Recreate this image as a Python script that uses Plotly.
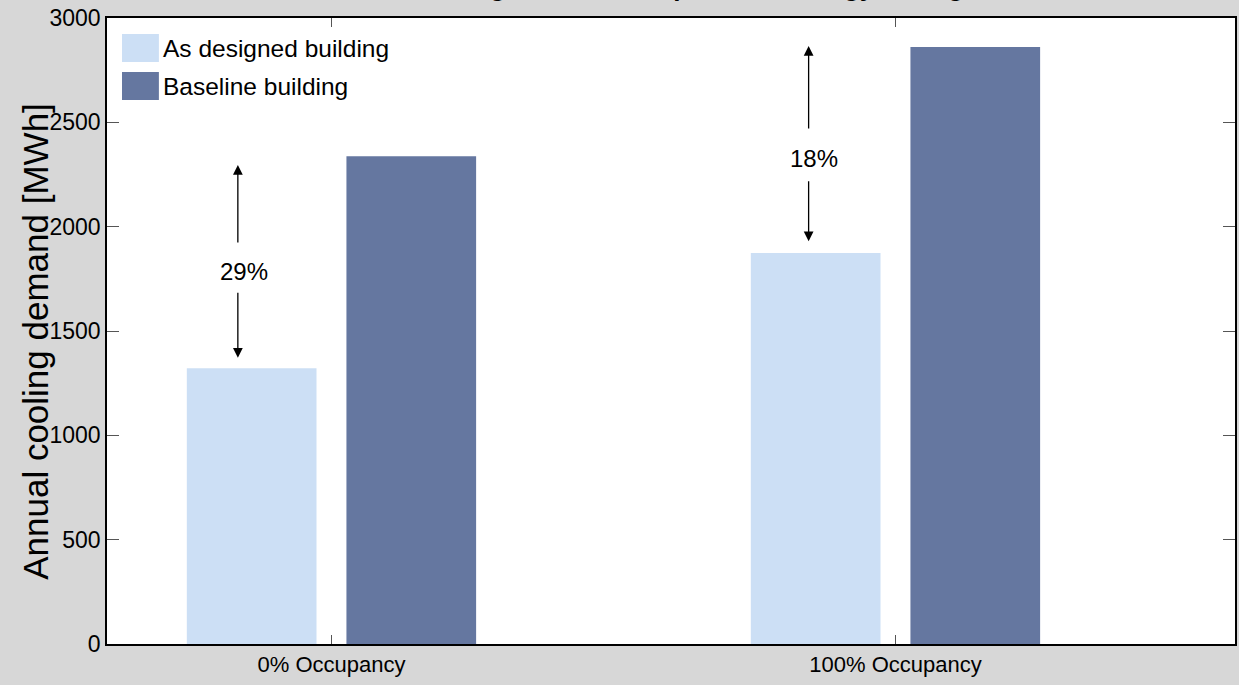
import plotly.graph_objects as go

categories = ["0% Occupancy", "100% Occupancy"]
as_designed = [1322, 1874]
baseline = [2338, 2861]
series_names = ["As designed building", "Baseline building"]
savings_labels = ["29%", "18%"]
y_ticks = [0, 500, 1000, 1500, 2000, 2500, 3000]
y_title = "Annual cooling demand [MWh]"

# annotation geometry (data coords)
arrow_x = [-0.166, 0.846]
label_x = [-0.155, 0.855]
label_y = [1785, 2325]
up_tail = [1917, 2463]
up_head = [2295, 2866]
down_tail = [1690, 2225]
down_head = [1372, 1930]

light = "#CCDFF5"
dark = "#6577A0"
font_family = "Liberation Sans, Arial, sans-serif"

fig = go.Figure()
fig.add_trace(go.Bar(x=categories, y=as_designed, name=series_names[0],
                     marker=dict(color=light, line=dict(width=0))))
fig.add_trace(go.Bar(x=categories, y=baseline, name=series_names[1],
                     marker=dict(color=dark, line=dict(width=0))))

anns = []
for i in range(len(categories)):
    anns.append(dict(x=label_x[i], y=label_y[i], xref="x", yref="y", text=savings_labels[i],
                     showarrow=False, font=dict(size=24, color="black", family=font_family)))
    anns.append(dict(x=arrow_x[i], y=up_head[i], ax=arrow_x[i], ay=up_tail[i],
                     xref="x", yref="y", axref="x", ayref="y", text="", showarrow=True,
                     arrowhead=2, arrowsize=1.5, arrowwidth=1.3, arrowcolor="black"))
    anns.append(dict(x=arrow_x[i], y=down_head[i], ax=arrow_x[i], ay=down_tail[i],
                     xref="x", yref="y", axref="x", ayref="y", text="", showarrow=True,
                     arrowhead=2, arrowsize=1.5, arrowwidth=1.3, arrowcolor="black"))

# title (cut off at the top edge as in the reference)
anns.append(dict(x=0.52, y=1.0225, xref="paper", yref="paper", xanchor="center", yanchor="bottom",
                 text="<b>Cooling demand and potential energy savings</b>", showarrow=False,
                 font=dict(size=26, color="black", family=font_family)))

# y axis title
anns.append(dict(x=-0.064, y=0.484, xref="paper", yref="paper", xanchor="center", yanchor="middle",
                 text=y_title, textangle=-90, showarrow=False,
                 font=dict(size=35, color="black", family=font_family)))

# custom legend (large swatches)
legend_colors = [light, dark]
legend_y0 = [0.9297, 0.869]
legend_y1 = [0.9744, 0.9137]
legend_text_y = [0.952, 0.891]
shapes = []
for i in range(2):
    shapes.append(dict(type="rect", xref="paper", yref="paper", x0=0.0133, x1=0.046,
                       y0=legend_y0[i], y1=legend_y1[i], fillcolor=legend_colors[i],
                       line=dict(width=0)))
    anns.append(dict(x=0.048, y=legend_text_y[i], xref="paper", yref="paper", xanchor="left",
                     yanchor="middle", text=series_names[i], showarrow=False,
                     font=dict(size=24.5, color="black", family=font_family)))

fig.update_layout(
    width=1239, height=685,
    margin=dict(l=107, r=2, t=18, b=41),
    paper_bgcolor="#D7D7D7",
    plot_bgcolor="white",
    barmode="group",
    bargap=0.434,
    bargroupgap=0.1875,
    font=dict(family=font_family, size=22, color="black"),
    showlegend=False,
    annotations=anns,
    shapes=shapes,
)
fig.update_xaxes(range=[-0.398, 1.602], showline=True, linecolor="black", linewidth=1.5,
                 mirror="ticks", ticks="inside", ticklen=9, tickcolor="#555555",
                 tickfont=dict(size=22), showgrid=False, zeroline=False)
fig.update_yaxes(range=[0, 3000], tickvals=y_ticks, showline=True, linecolor="black", linewidth=1.5,
                 mirror="ticks", ticks="inside", ticklen=12, tickcolor="#555555",
                 tickfont=dict(size=23), showgrid=False, zeroline=False)

fig.write_html("out.html", config={"displayModeBar": False},
               post_script="document.body.style.margin='0';document.body.style.overflow='hidden';")
